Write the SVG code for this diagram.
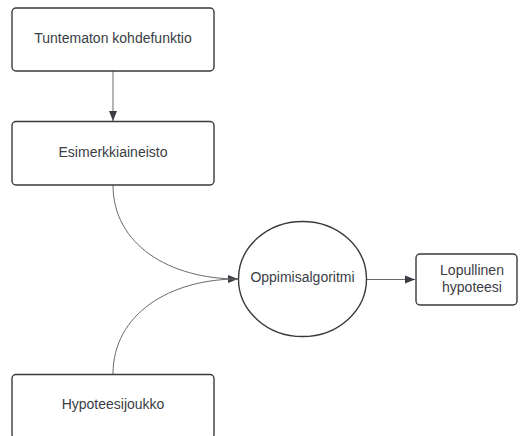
<svg xmlns="http://www.w3.org/2000/svg" width="520" height="436" viewBox="0 0 520 436">
<defs>
<style>
.box{fill:#ffffff;stroke:#3a3a3a;stroke-width:1.4}
.lbl{font-family:"Liberation Sans",Arial,sans-serif;font-size:14px;fill:#3a3d45;text-anchor:middle;dominant-baseline:central}
.edge{fill:none;stroke:#6a6a6a;stroke-width:1}
</style>
<marker id="ah" viewBox="0 0 10 10" refX="10" refY="5" markerWidth="10" markerHeight="10" markerUnits="userSpaceOnUse" orient="auto">
<path d="M0,1 L10,5 L0,9 Z" fill="#3a3d45"/>
</marker>
</defs>
<rect width="520" height="436" fill="#ffffff"/>
<g id="connectors">
<line class="edge" x1="113" y1="71" x2="113" y2="121" marker-end="url(#ah)"/>
<path class="edge" d="M113,185 C113,245 170,279 238,279" marker-end="url(#ah)"/>
<path class="edge" d="M113,374 C113,314 170,279 238,279"/>
<line class="edge" x1="367" y1="279.5" x2="415" y2="279.5" marker-end="url(#ah)"/>
</g>
<g id="n1">
<rect class="box" x="12" y="8" width="202" height="63" rx="4"/>
<text class="lbl" x="113" y="38">Tuntematon kohdefunktio</text>
</g>
<g id="n2">
<rect class="box" x="12" y="121.5" width="202" height="63.5" rx="4"/>
<text class="lbl" x="113" y="152">Esimerkkiaineisto</text>
</g>
<g id="n3">
<rect class="box" x="12" y="374.5" width="202" height="64" rx="4"/>
<text class="lbl" x="113" y="404">Hypoteesijoukko</text>
</g>
<g id="n4">
<ellipse class="box" cx="302.5" cy="279" rx="64" ry="57.5"/>
<text class="lbl" x="302.5" y="277">Oppimisalgoritmi</text>
</g>
<g id="n5">
<rect class="box" x="416" y="254" width="101" height="51" rx="4"/>
<text class="lbl" x="472" y="270">Lopullinen</text>
<text class="lbl" x="472" y="287">hypoteesi</text>
</g>
</svg>
